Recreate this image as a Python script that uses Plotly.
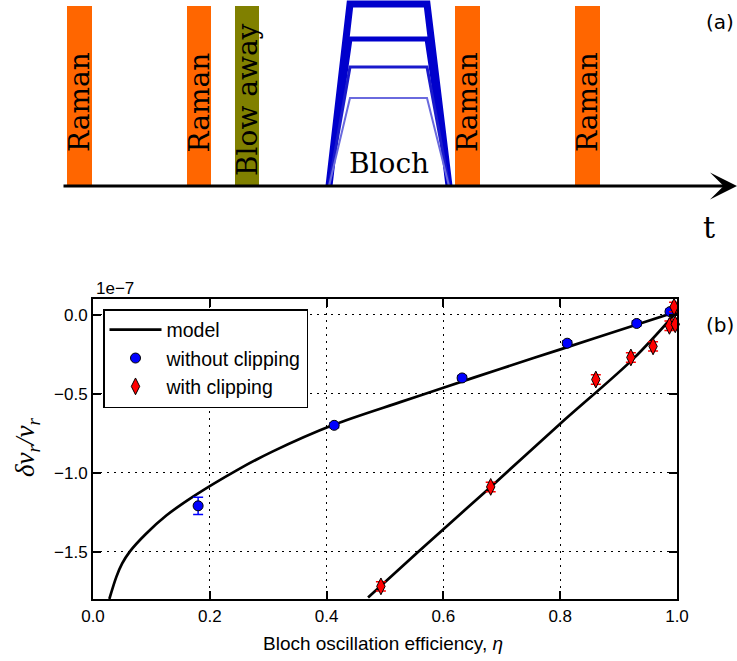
import plotly.graph_objects as go

# ---------------- (a) timing diagram data (arbitrary time units) ----------------
pulse_labels = ["Raman", "Raman", "Blow away", "Raman", "Raman"]
pulse_start = [5, 125, 173, 393, 513]
pulse_end = [30, 149, 197, 418, 538]
pulse_amp = [180, 180, 180, 180, 180]
pulse_kind = ["raman", "raman", "blow", "raman", "raman"]

bloch_t = [267, 288, 365, 387]          # ramp up start, plateau start, plateau end, ramp down end
bloch_levels = [182, 147, 119, 88]      # plateau depths
time_end = 675

# ---------------- (b) data, delta v_r / v_r in units of 1e-7 ----------------
eta_without = [0.18, 0.413, 0.632, 0.812, 0.931, 0.988]
dv_without = [-1.21, -0.70, -0.40, -0.18, -0.055, 0.02]
err_without = [0.055, 0.015, 0.015, 0.015, 0.015, 0.015]

eta_with = [0.493, 0.681, 0.861, 0.921, 0.959, 0.987, 0.997, 0.995]
dv_with = [-1.72, -1.09, -0.41, -0.27, -0.20, -0.07, -0.06, 0.05]
err_with = [0.03, 0.03, 0.03, 0.03, 0.03, 0.03, 0.03, 0.03]

model1_eta = [0.028, 0.040, 0.050, 0.063, 0.090, 0.126, 0.172, 0.246, 0.308,
              0.411, 0.526, 0.600, 0.697, 0.803, 0.925, 1.0]
model1_dv = [-1.80, -1.66, -1.575, -1.50, -1.39, -1.27, -1.15, -0.985, -0.865,
             -0.698, -0.553, -0.462, -0.343, -0.216, -0.070, 0.02]

model2_eta = [0.471, 0.557, 0.681, 0.800, 0.925, 1.0]
model2_dv = [-1.79, -1.50, -1.09, -0.69, -0.279, 0.02]

x_ticks = [0.0, 0.2, 0.4, 0.6, 0.8, 1.0]
y_ticks = [0.0, -0.5, -1.0, -1.5]

# ---------------- styling ----------------
W, H = 737, 661
SANS = "Liberation Sans, Arial, sans-serif"
SERIF = "DejaVu Serif, serif"
kind_color = {"raman": "#ff6600", "blow": "#808000"}
bloch_width = [7, 5, 3, 2]
bloch_color = ["#0000cc", "#0000cc", "#1a1acc", "#6a6ade"]

fig = go.Figure()

# ---- (a) Bloch trapezoids
for lvl, lw, col in zip(bloch_levels, bloch_width, bloch_color):
    fig.add_trace(go.Scatter(
        x=bloch_t, y=[0, lvl, lvl, 0], mode="lines",
        line=dict(color=col, width=lw), xaxis="x2", yaxis="y2",
        showlegend=False, hoverinfo="skip", cliponaxis=False))

shapes = []
annotations = []
for lab, s, e, a, k in zip(pulse_labels, pulse_start, pulse_end, pulse_amp, pulse_kind):
    shapes.append(dict(type="rect", xref="x2", yref="y2", x0=s, x1=e, y0=0, y1=a,
                       fillcolor=kind_color[k], line=dict(width=0), layer="below"))
    annotations.append(dict(xref="x2", yref="y2", x=(s + e) / 2,
                            y=a / 2 + (-4 if k == "blow" else -6.5),
                            text=lab, textangle=-90, showarrow=False,
                            font=dict(family=SERIF, size=28, color="black"),
                            xanchor="center", yanchor="middle"))

# time axis arrow
annotations.append(dict(xref="x2", yref="y2", axref="x2", ayref="y2",
                        x=time_end, y=0, ax=0, ay=0, text="", showarrow=True,
                        arrowhead=3, arrowwidth=3, arrowsize=1.5, arrowcolor="black"))
annotations.append(dict(xref="x2", yref="y2", x=(bloch_t[0] + bloch_t[3]) / 2, y=23,
                        text="Bloch", showarrow=False, xanchor="center", yanchor="middle",
                        font=dict(family=SERIF, size=28, color="black")))
annotations.append(dict(xref="x2", yref="y2", x=647, y=-41, text="t", showarrow=False,
                        xanchor="center", yanchor="middle",
                        font=dict(family=SERIF, size=30, color="black")))
annotations.append(dict(xref="paper", yref="paper", x=720 / W, y=1 - 22 / H, text="(a)",
                        xanchor="center", yanchor="middle", showarrow=False,
                        font=dict(family="DejaVu Sans", size=20, color="black")))
annotations.append(dict(xref="paper", yref="paper", x=720 / W, y=1 - 325 / H, text="(b)",
                        xanchor="center", yanchor="middle", showarrow=False,
                        font=dict(family="DejaVu Sans", size=20, color="black")))

# ---- (b) plot
fig.add_trace(go.Scatter(x=model1_eta, y=model1_dv, mode="lines", name="model",
                         line=dict(color="black", width=2.7, shape="spline", smoothing=0.9),
                         legendrank=1))
fig.add_trace(go.Scatter(x=model2_eta, y=model2_dv, mode="lines", name="model",
                         line=dict(color="black", width=2.7, shape="spline", smoothing=0.9),
                         showlegend=False))
fig.add_trace(go.Scatter(
    x=eta_without, y=dv_without, mode="markers", name="without clipping",
    marker=dict(symbol="circle", size=10, color="#0000ff", line=dict(color="black", width=1)),
    error_y=dict(type="data", array=err_without, color="#0000ff", thickness=1.5, width=5),
    legendrank=2, cliponaxis=False))
fig.add_trace(go.Scatter(
    x=eta_with, y=dv_with, mode="markers", name="with clipping",
    marker=dict(symbol="diamond-tall", size=12, color="#ff0000", line=dict(color="black", width=1)),
    error_y=dict(type="data", array=err_with, color="#ff0000", thickness=1.5, width=5),
    legendrank=3, cliponaxis=False))

annotations.append(dict(xref="paper", yref="paper", x=94 / W, y=1 - 288 / H, text="1e\u22127",
                        xanchor="left", yanchor="middle", showarrow=False,
                        font=dict(family=SANS, size=17, color="black")))
annotations.append(dict(xref="paper", yref="paper", x=27 / W, y=1 - 448 / H,
                        text="<i>\u03b4v</i><sub><i>r</i></sub><i>/v</i><sub><i>r</i></sub>",
                        textangle=-90, showarrow=False, xanchor="center", yanchor="middle",
                        font=dict(family="Liberation Serif, serif", size=27, color="black")))
annotations.append(dict(xref="paper", yref="paper", x=383 / W, y=1 - 643 / H,
                        text="Bloch oscillation efficiency, <i>\u03b7</i>",
                        xanchor="center", yanchor="middle",
                        showarrow=False, font=dict(family=SANS, size=19, color="black")))

axis_common = dict(showline=True, linecolor="black", linewidth=2, mirror="ticks",
                   ticks="inside", ticklen=8, tickwidth=1.5, tickcolor="black",
                   showgrid=True, gridcolor="black", gridwidth=1.2, griddash="2px,5px",
                   zeroline=False, tickfont=dict(family=SANS, size=17, color="black"),
                   tickformat=".1f", automargin=False)

fig.update_layout(
    width=W, height=H, margin=dict(l=0, r=0, t=0, b=0, autoexpand=False),
    paper_bgcolor="white", plot_bgcolor="white",
    xaxis=dict(domain=[93 / W, 677 / W], range=[0, 1], tickvals=x_ticks, anchor="y",
               ticklabelstandoff=1, **axis_common),
    yaxis=dict(domain=[62 / H, 362 / H], range=[-1.8, 0.1], tickvals=y_ticks, anchor="x",
               ticklabelstandoff=0, **axis_common),
    xaxis2=dict(domain=[0, 1], range=[-62, time_end], visible=False, anchor="y2",
                fixedrange=True, automargin=False),
    yaxis2=dict(domain=[1 - 260 / H, 1], range=[-74, 186], visible=False, anchor="x2",
                fixedrange=True, automargin=False),
    shapes=shapes, annotations=annotations,
    showlegend=True,
    legend=dict(x=103 / W, y=1 - 309 / H, xanchor="left", yanchor="top",
                bgcolor="white", bordercolor="black", borderwidth=1.5,
                font=dict(family=SANS, size=19.5, color="black"),
                tracegroupgap=0, itemwidth=52),
)

fig.write_html("out.html", config={"displayModeBar": False},
               post_script="document.body.style.margin='0px';document.body.style.overflow='hidden';")
